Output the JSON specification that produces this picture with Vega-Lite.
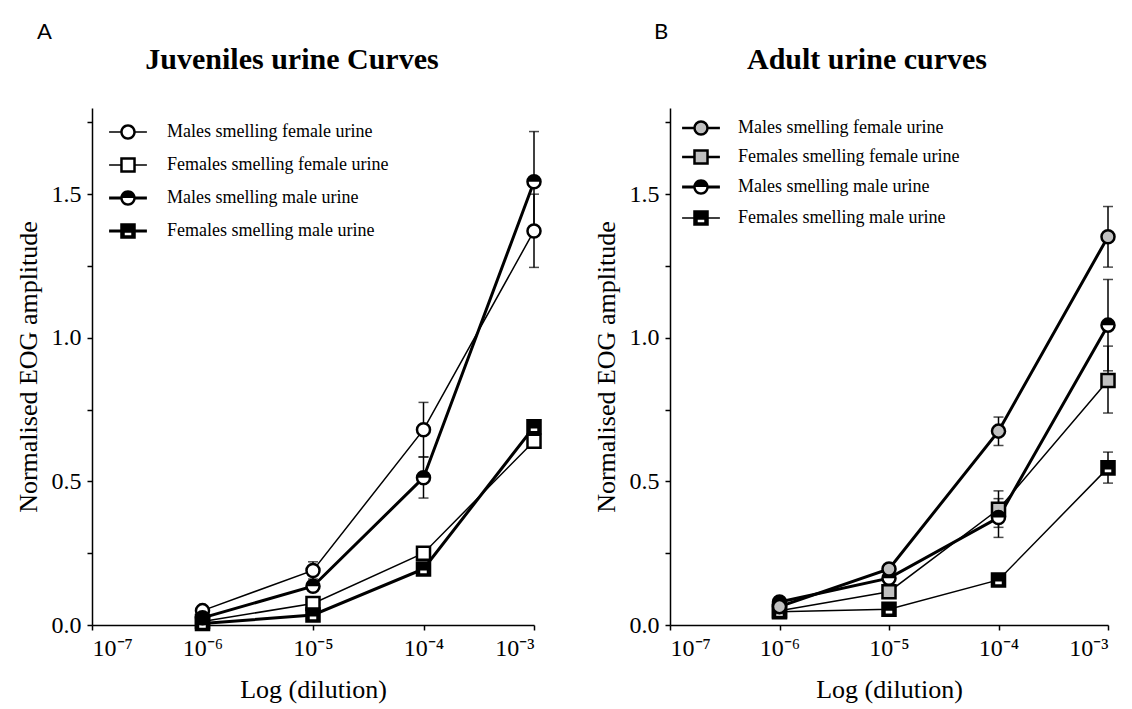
{
  "$schema": "https://vega.github.io/schema/vega-lite/v6.json",
  "background": "white",
  "padding": {"left": 15, "top": 21, "right": 5, "bottom": 5},
  "data": {"values": [
    {"p": "A", "s": "Males smelling female urine", "x": 1e-6, "y": 0.05},
    {"p": "A", "s": "Males smelling female urine", "x": 1e-5, "y": 0.19, "lo": 0.16, "hi": 0.22},
    {"p": "A", "s": "Males smelling female urine", "x": 1e-4, "y": 0.68, "lo": 0.585, "hi": 0.775},
    {"p": "A", "s": "Males smelling female urine", "x": 1e-3, "y": 1.372, "lo": 1.245, "hi": 1.5},
    {"p": "A", "s": "Females smelling female urine", "x": 1e-6, "y": 0.012},
    {"p": "A", "s": "Females smelling female urine", "x": 1e-5, "y": 0.075},
    {"p": "A", "s": "Females smelling female urine", "x": 1e-4, "y": 0.25},
    {"p": "A", "s": "Females smelling female urine", "x": 1e-3, "y": 0.64},
    {"p": "A", "s": "Males smelling male urine", "x": 1e-6, "y": 0.025},
    {"p": "A", "s": "Males smelling male urine", "x": 1e-5, "y": 0.135},
    {"p": "A", "s": "Males smelling male urine", "x": 1e-4, "y": 0.513, "lo": 0.442, "hi": 0.585},
    {"p": "A", "s": "Males smelling male urine", "x": 1e-3, "y": 1.543, "lo": 1.37, "hi": 1.718},
    {"p": "A", "s": "Females smelling male urine", "x": 1e-6, "y": 0.005},
    {"p": "A", "s": "Females smelling male urine", "x": 1e-5, "y": 0.035},
    {"p": "A", "s": "Females smelling male urine", "x": 1e-4, "y": 0.195},
    {"p": "A", "s": "Females smelling male urine", "x": 1e-3, "y": 0.69},
    {"p": "B", "s": "Males smelling female urine", "x": 1e-6, "y": 0.064},
    {"p": "B", "s": "Males smelling female urine", "x": 1e-5, "y": 0.195},
    {"p": "B", "s": "Males smelling female urine", "x": 1e-4, "y": 0.675, "lo": 0.625, "hi": 0.724},
    {"p": "B", "s": "Males smelling female urine", "x": 1e-3, "y": 1.352, "lo": 1.246, "hi": 1.457},
    {"p": "B", "s": "Females smelling female urine", "x": 1e-6, "y": 0.05},
    {"p": "B", "s": "Females smelling female urine", "x": 1e-5, "y": 0.116},
    {"p": "B", "s": "Females smelling female urine", "x": 1e-4, "y": 0.403, "lo": 0.34, "hi": 0.467},
    {"p": "B", "s": "Females smelling female urine", "x": 1e-3, "y": 0.851, "lo": 0.738, "hi": 0.971},
    {"p": "B", "s": "Males smelling male urine", "x": 1e-6, "y": 0.08},
    {"p": "B", "s": "Males smelling male urine", "x": 1e-5, "y": 0.163},
    {"p": "B", "s": "Males smelling male urine", "x": 1e-4, "y": 0.374, "lo": 0.305, "hi": 0.44},
    {"p": "B", "s": "Males smelling male urine", "x": 1e-3, "y": 1.044, "lo": 0.885, "hi": 1.203},
    {"p": "B", "s": "Females smelling male urine", "x": 1e-6, "y": 0.046},
    {"p": "B", "s": "Females smelling male urine", "x": 1e-5, "y": 0.055},
    {"p": "B", "s": "Females smelling male urine", "x": 1e-4, "y": 0.157},
    {"p": "B", "s": "Females smelling male urine", "x": 1e-3, "y": 0.547, "lo": 0.494, "hi": 0.602}
  ]},
  "spacing": 47,
  "resolve": {
    "scale": {"shape": "independent", "fill": "independent", "stroke": "independent"},
    "legend": {"shape": "independent", "fill": "independent", "stroke": "independent"}
  },
  "hconcat": [
    {
      "title": {"text": "A", "anchor": "start", "dx": 22, "offset": 1, "font": "Lato", "fontSize": 22, "fontWeight": "normal"},
      "vconcat": [
        {
          "width": 442,
          "height": 517,
          "title": {"text": "Juveniles urine Curves", "frame": "group", "anchor": "middle", "dx": -21, "offset": 33},
          "transform": [{"filter": "datum.p === 'A'"}],
          "encoding": {
            "x": {"field": "x", "type": "quantitative", "scale": {"type": "log", "domain": [1e-7, 1e-3], "nice": false},
                  "axis": {"values": [1e-7, 1e-6, 1e-5, 1e-4, 1e-3], "labelExpr": "datum.value < 5e-7 ? '10⁻⁷' : datum.value < 5e-6 ? '10⁻⁶' : datum.value < 5e-5 ? '10⁻⁵' : datum.value < 5e-4 ? '10⁻⁴' : '10⁻³'", "title": "Log (dilution)"}},
            "y": {"field": "y", "type": "quantitative", "scale": {"domain": [0, 1.8], "nice": false, "zero": false},
                  "axis": {"values": [0, 0.25, 0.5, 0.75, 1, 1.25, 1.5, 1.75], "labelExpr": "datum.value % 0.5 === 0 ? format(datum.value, '.1f') : ''", "title": "Normalised EOG amplitude"}}
          },
          "layer": [
            {"transform": [{"filter": "datum.s === 'Males smelling female urine' || datum.s === 'Females smelling female urine'"}],
             "mark": {"type": "line", "color": "black", "strokeWidth": 1.5},
             "encoding": {"detail": {"field": "s"}}},
            {"transform": [{"filter": "datum.s === 'Males smelling male urine' || datum.s === 'Females smelling male urine'"}],
             "mark": {"type": "line", "color": "black", "strokeWidth": 3},
             "encoding": {"detail": {"field": "s"}}},
            {"transform": [{"filter": "isValid(datum.lo)"}],
             "mark": {"type": "errorbar", "ticks": {"size": 10}, "thickness": 1.5, "color": "black"},
             "encoding": {"y": {"field": "lo", "type": "quantitative", "title": "Normalised EOG amplitude"}, "y2": {"field": "hi"}}},
            {"transform": [{"filter": "datum.s === 'Females smelling female urine' || datum.s === 'Females smelling male urine'"}],
             "mark": {"type": "point", "shape": "square", "filled": true, "fill": "white", "stroke": "black", "strokeWidth": 2.5, "size": 170, "opacity": 1}},
            {"transform": [{"filter": "datum.s === 'Males smelling female urine' || datum.s === 'Males smelling male urine'"}],
             "mark": {"type": "point", "shape": "circle", "filled": true, "fill": "white", "stroke": "black", "strokeWidth": 2.5, "size": 170, "opacity": 1}},
            {"transform": [{"filter": "datum.s === 'Males smelling male urine'"}],
             "mark": {"type": "point", "filled": true, "fill": "black", "strokeWidth": 0, "size": 170, "opacity": 1, "shape": "M-1,0A1,1 0 0,1 1,0Z"}},
            {"transform": [{"filter": "datum.s === 'Females smelling male urine'"}],
             "mark": {"type": "point", "filled": true, "fill": "black", "strokeWidth": 0, "size": 170, "opacity": 1, "shape": "M-1,-1H1V1H-1Z M-0.5,0.25V0.65H0.5V0.25Z"}},
            {"transform": [{"filter": "false"}],
             "mark": {"type": "point", "filled": true, "color": "black", "strokeWidth": 0, "size": 170, "opacity": 1},
             "encoding": {
               "shape": {"field": "s", "type": "nominal",
                         "scale": {"domain": ["Males smelling female urine", "Females smelling female urine", "Males smelling male urine", "Females smelling male urine"],
                                   "range": [
                                     "M-2.9,-0.12H-1V0.12H-2.9Z M1,-0.12H2.9V0.12H1Z M-1.19,0A1.19,1.19 0 1,1 1.19,0A1.19,1.19 0 1,1 -1.19,0Z M-0.81,0A0.81,0.81 0 1,0 0.81,0A0.81,0.81 0 1,0 -0.81,0Z",
                                     "M-2.9,-0.12H-1V0.12H-2.9Z M1,-0.12H2.9V0.12H1Z M-1.19,-1.19H1.19V1.19H-1.19Z M-0.81,-0.81V0.81H0.81V-0.81Z",
                                     "M-2.9,-0.24H-1V0.24H-2.9Z M1,-0.24H2.9V0.24H1Z M-1.19,0A1.19,1.19 0 1,1 1.19,0A1.19,1.19 0 1,1 -1.19,0Z M-0.81,0A0.81,0.81 0 1,0 0.81,0A0.81,0.81 0 1,0 -0.81,0Z M-0.81,0A0.81,0.81 0 0,1 0.81,0Z",
                                     "M-2.9,-0.24H-1V0.24H-2.9Z M1,-0.24H2.9V0.24H1Z M-1.19,-1.19H1.19V1.19H-1.19Z M-0.5,0.25V0.65H0.5V0.25Z"
                                   ]},
                         "legend": {"orient": "none", "legendX": 27, "legendY": 15, "title": null, "symbolSize": 170, "symbolFillColor": "black", "symbolStrokeWidth": 0, "symbolOpacity": 1,
                                    "labelFont": "Liberation Serif", "labelFontSize": 18, "labelColor": "black", "labelLimit": 400, "labelOffset": 30, "rowPadding": 15, "padding": 0}}
             }}
          ]
        }
      ]
    },
    {
      "title": {"text": "B", "anchor": "start", "dx": 61, "offset": 1, "font": "Lato", "fontSize": 22, "fontWeight": "normal"},
      "vconcat": [
        {
          "width": 438,
          "height": 517,
          "title": {"text": "Adult urine curves", "frame": "group", "anchor": "middle", "dx": -22, "offset": 33},
          "transform": [{"filter": "datum.p === 'B'"}],
          "encoding": {
            "x": {"field": "x", "type": "quantitative", "scale": {"type": "log", "domain": [1e-7, 1e-3], "nice": false},
                  "axis": {"values": [1e-7, 1e-6, 1e-5, 1e-4, 1e-3], "labelExpr": "datum.value < 5e-7 ? '10⁻⁷' : datum.value < 5e-6 ? '10⁻⁶' : datum.value < 5e-5 ? '10⁻⁵' : datum.value < 5e-4 ? '10⁻⁴' : '10⁻³'", "title": "Log (dilution)"}},
            "y": {"field": "y", "type": "quantitative", "scale": {"domain": [0, 1.8], "nice": false, "zero": false},
                  "axis": {"values": [0, 0.25, 0.5, 0.75, 1, 1.25, 1.5, 1.75], "labelExpr": "datum.value % 0.5 === 0 ? format(datum.value, '.1f') : ''", "title": "Normalised EOG amplitude"}}
          },
          "layer": [
            {"transform": [{"filter": "datum.s === 'Females smelling female urine' || datum.s === 'Females smelling male urine'"}],
             "mark": {"type": "line", "color": "black", "strokeWidth": 1.5},
             "encoding": {"detail": {"field": "s"}}},
            {"transform": [{"filter": "datum.s === 'Males smelling female urine' || datum.s === 'Males smelling male urine'"}],
             "mark": {"type": "line", "color": "black", "strokeWidth": 3},
             "encoding": {"detail": {"field": "s"}}},
            {"transform": [{"filter": "isValid(datum.lo)"}],
             "mark": {"type": "errorbar", "ticks": {"size": 10}, "thickness": 1.5, "color": "black"},
             "encoding": {"y": {"field": "lo", "type": "quantitative", "title": "Normalised EOG amplitude"}, "y2": {"field": "hi"}}},
            {"transform": [{"filter": "datum.s === 'Females smelling male urine'"}],
             "mark": {"type": "point", "shape": "square", "filled": true, "fill": "white", "stroke": "black", "strokeWidth": 2.5, "size": 170, "opacity": 1}},
            {"transform": [{"filter": "datum.s === 'Females smelling female urine'"}],
             "mark": {"type": "point", "shape": "square", "filled": true, "fill": "#c0c0c0", "stroke": "black", "strokeWidth": 2.5, "size": 170, "opacity": 1}},
            {"transform": [{"filter": "datum.s === 'Males smelling male urine'"}],
             "mark": {"type": "point", "shape": "circle", "filled": true, "fill": "white", "stroke": "black", "strokeWidth": 2.5, "size": 170, "opacity": 1}},
            {"transform": [{"filter": "datum.s === 'Males smelling male urine'"}],
             "mark": {"type": "point", "filled": true, "fill": "black", "strokeWidth": 0, "size": 170, "opacity": 1, "shape": "M-1,0A1,1 0 0,1 1,0Z"}},
            {"transform": [{"filter": "datum.s === 'Females smelling male urine'"}],
             "mark": {"type": "point", "filled": true, "fill": "black", "strokeWidth": 0, "size": 170, "opacity": 1, "shape": "M-1,-1H1V1H-1Z M-0.5,0.25V0.65H0.5V0.25Z"}},
            {"transform": [{"filter": "datum.s === 'Males smelling female urine'"}],
             "mark": {"type": "point", "shape": "circle", "filled": true, "fill": "#c0c0c0", "stroke": "black", "strokeWidth": 2.5, "size": 170, "opacity": 1}},
            {"transform": [{"filter": "false"}],
             "mark": {"type": "point", "filled": true, "size": 170, "opacity": 1},
             "encoding": {
               "shape": {"field": "s", "type": "nominal",
                         "scale": {"domain": ["Males smelling female urine", "Females smelling female urine", "Males smelling male urine", "Females smelling male urine"],
                                   "range": [
                                     "M-2.9,0H-1M1,0H2.9M-1,0A1,1 0 1,1 1,0A1,1 0 1,1 -1,0Z",
                                     "M-2.9,0H-1M1,0H2.9M-1,-1H1V1H-1Z",
                                     "M-2.9,-0.24H-1V0.24H-2.9Z M1,-0.24H2.9V0.24H1Z M-1.19,0A1.19,1.19 0 1,1 1.19,0A1.19,1.19 0 1,1 -1.19,0Z M-0.81,0A0.81,0.81 0 1,0 0.81,0A0.81,0.81 0 1,0 -0.81,0Z M-0.81,0A0.81,0.81 0 0,1 0.81,0Z",
                                     "M-2.9,-0.12H-1V0.12H-2.9Z M1,-0.12H2.9V0.12H1Z M-1.19,-1.19H1.19V1.19H-1.19Z M-0.5,0.25V0.65H0.5V0.25Z"
                                   ]},
                         "legend": {"orient": "none", "legendX": 22, "legendY": 11, "title": null, "symbolSize": 170, "symbolStrokeWidth": 2.5, "symbolOpacity": 1,
                                    "labelFont": "Liberation Serif", "labelFontSize": 18, "labelColor": "black", "labelLimit": 400, "labelOffset": 28, "rowPadding": 5, "padding": 0}},
               "fill": {"field": "s", "type": "nominal",
                        "scale": {"domain": ["Males smelling female urine", "Females smelling female urine", "Males smelling male urine", "Females smelling male urine"], "range": ["#c0c0c0", "#c0c0c0", "black", "black"]}},
               "stroke": {"field": "s", "type": "nominal",
                          "scale": {"domain": ["Males smelling female urine", "Females smelling female urine", "Males smelling male urine", "Females smelling male urine"], "range": ["black", "black", "transparent", "transparent"]}}
             }}
          ]
        }
      ]
    }
  ],
  "config": {
    "view": {"stroke": null},
    "font": "Liberation Serif",
    "title": {"font": "Liberation Serif", "fontSize": 30, "fontWeight": "bold", "color": "black"},
    "axis": {"grid": false, "domainColor": "black", "domainWidth": 1.5, "tickColor": "black", "tickWidth": 1.5, "tickSize": 5,
             "labelFont": "Liberation Serif", "labelFontSize": 24, "labelColor": "black", "labelPadding": 6,
             "titleFont": "Liberation Serif", "titleFontSize": 26, "titleFontWeight": "normal", "titleColor": "black", "titlePadding": 10},
    "axisX": {"titlePadding": 16}
  }
}
